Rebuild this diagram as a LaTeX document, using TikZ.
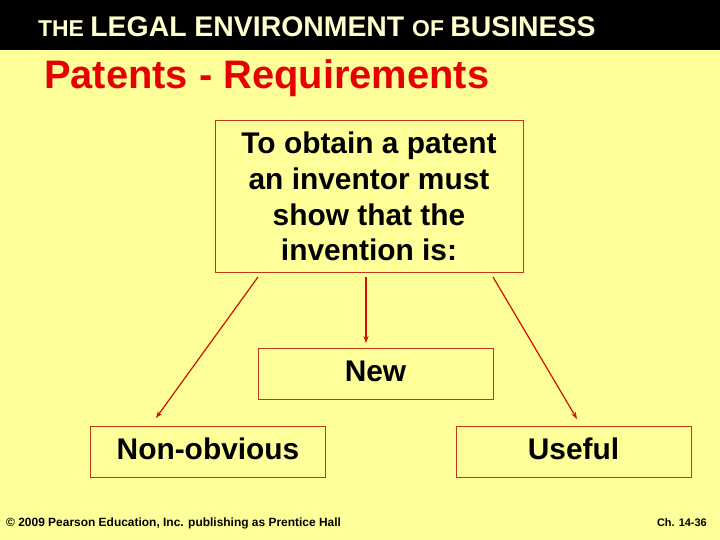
\documentclass[tikz,border=0pt]{standalone}
\usepackage{fontspec}
\setmainfont{Liberation Sans}
\usetikzlibrary{arrows.meta}
\definecolor{slidebg}{RGB}{255,255,153}
\definecolor{headtxt}{RGB}{255,255,204}
\definecolor{boxline}{RGB}{192,56,24}
\definecolor{arrred}{RGB}{204,16,0}
\definecolor{titred}{RGB}{230,0,0}
\tikzset{
  reqbox/.style={draw=boxline, line width=1bp, inner sep=0pt, align=center,
    font=\bfseries\fontsize{30}{36}\selectfont},
  onebox/.style={reqbox, minimum width=235bp, minimum height=51bp, text height=22bp, text depth=7bp},
  reqarrow/.style={draw=arrred, line width=1.2bp, -{Stealth[length=7bp,width=5bp]}}
}
\begin{document}
\begin{tikzpicture}[x=1bp, y=-1bp]
    \useasboundingbox (0,0) rectangle (720,540);
    \fill[slidebg] (0,0) rectangle (720,540);
    \fill[black]   (0,0) rectangle (720,50);
    % header and title
    \node[anchor=base west, text=headtxt, inner sep=0pt, font=\bfseries] (header) at (38,37)
      {\fontsize{23}{23}\selectfont THE \fontsize{28.5}{28.5}\selectfont LEGAL ENVIRONMENT \fontsize{23}{23}\selectfont OF \fontsize{28.5}{28.5}\selectfont BUSINESS};
    \node[anchor=base west, text=titred, inner sep=0pt, font=\bfseries\fontsize{40}{40}\selectfont] (title) at (44,89)
      {Patents - Requirements};
    % boxes
    \node[reqbox, minimum width=308bp, minimum height=151bp] (obtain) at (369,196.5)
      {To obtain a patent\\ an inventor must\\ show that the\\ invention is:};
    \node[onebox] (new)    at (375.5,373.5) {New};
    \node[onebox] (nonobv) at (208,451.5)   {Non-obvious};
    \node[onebox] (useful) at (573.5,451.5) {Useful};
    % arrow ends
    \coordinate (leftstart)  at (258,277); \coordinate (leftend)  at (156,418);
    \coordinate (midstart)   at (366,277); \coordinate (midend)   at (366,343);
    \coordinate (rightstart) at (493,277); \coordinate (rightend) at (577,419);
    \draw[reqarrow] (leftstart)  -- (leftend);
    \draw[reqarrow] (midstart)   -- (midend);
    \draw[reqarrow] (rightstart) -- (rightend);
    % footer
    \node[anchor=base west, inner sep=0pt, font=\bfseries\fontsize{12}{12}\selectfont] (copyright) at (6,526)
      {\textcopyright\ 2009 Pearson Education, Inc. publishing as Prentice Hall};
    \node[anchor=base east, inner sep=0pt, font=\bfseries\fontsize{11}{11}\selectfont] (chapter) at (707,526) {Ch. 14-36};
  \end{tikzpicture}
\end{document}
